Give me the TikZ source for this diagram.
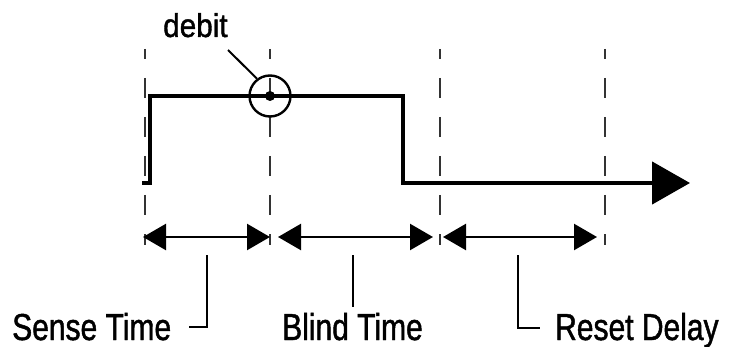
\documentclass[tikz,border=0pt]{standalone}
\usepackage{fontspec}
\usetikzlibrary{arrows.meta}
\newfontfamily\labfont[FakeStretch=0.8,FakeBold=1.2]{Liberation Sans}
\newfontfamily\debfont[FakeStretch=0.9,FakeBold=1.2]{Liberation Sans}
\begin{document}
\begin{tikzpicture}[x=1pt,y=-1pt,
  guide/.style={draw=black!80,line width=2.8pt,dash pattern=on 20pt off 19pt,dash phase=10pt},
  signal/.style={draw=black,line width=4.6pt,line join=miter},
  span/.style={draw=black,line width=2.4pt,{Triangle[length=23pt,width=26pt]}-{Triangle[length=23pt,width=26pt]}},
  leader/.style={draw=black,line width=2pt},
  lab/.style={anchor=base west,inner sep=0pt,text depth=0pt,font=\labfont\fontsize{37.5}{40}\selectfont},
  deblab/.style={anchor=base west,inner sep=0pt,font=\debfont\fontsize{33}{36}\selectfont}]
\useasboundingbox (0,0) rectangle (735,347);
% guide lines
\foreach \n/\x in {ga/145,gb/270,gc/440,gd/605}{
  \coordinate (\n t) at (\x,49);
  \coordinate (\n b) at (\x,245);
  \draw[guide] (\n t) -- (\n b);
}
% signal
\coordinate (s0) at (142,183);
\coordinate (s1) at (150,183);
\coordinate (s2) at (150,96);
\coordinate (s3) at (403,96);
\coordinate (s4) at (403,183);
\coordinate (s5) at (690,183);
\draw[signal,-{Triangle[length=38pt,width=42pt]}] (s0) -- (s1) -- (s2) -- (s3) -- (s4) -- (s5);
% debit marker
\node[circle,draw=black,line width=2.4pt,minimum size=41pt,inner sep=0pt] (ring) at (270,96) {};
\fill[black] (ring.center) circle (5pt);
\node[deblab] (debit) at (163,37) {debit};
\coordinate (dl) at (228,50);
\draw[leader] (dl) -- (ring.127);
% spans
\coordinate (a1) at (143,237); \coordinate (a2) at (270,237);
\coordinate (b1) at (278,237); \coordinate (b2) at (433,237);
\coordinate (c1) at (443,237); \coordinate (c2) at (597,237);
\draw[span] (a1) -- (a2);
\draw[span] (b1) -- (b2);
\draw[span] (c1) -- (c2);
% labels
\node[lab] (sense) at (12,340) {Sense Time};
\node[lab] (blind) at (282,340) {Blind Time};
\node[lab] (reset) at (555,340) {Reset Delay};
% leaders
\coordinate (la) at (207,255); \coordinate (lb) at (207,327); \coordinate (lc) at (189,327);
\draw[leader] (la) -- (lb) -- (lc);
\coordinate (ma) at (353,255); \coordinate (mb) at (353,307);
\draw[leader] (ma) -- (mb);
\coordinate (ra) at (518,255); \coordinate (rb) at (518,328); \coordinate (rc) at (540,328);
\draw[leader] (ra) -- (rb) -- (rc);
\end{tikzpicture}
\end{document}
